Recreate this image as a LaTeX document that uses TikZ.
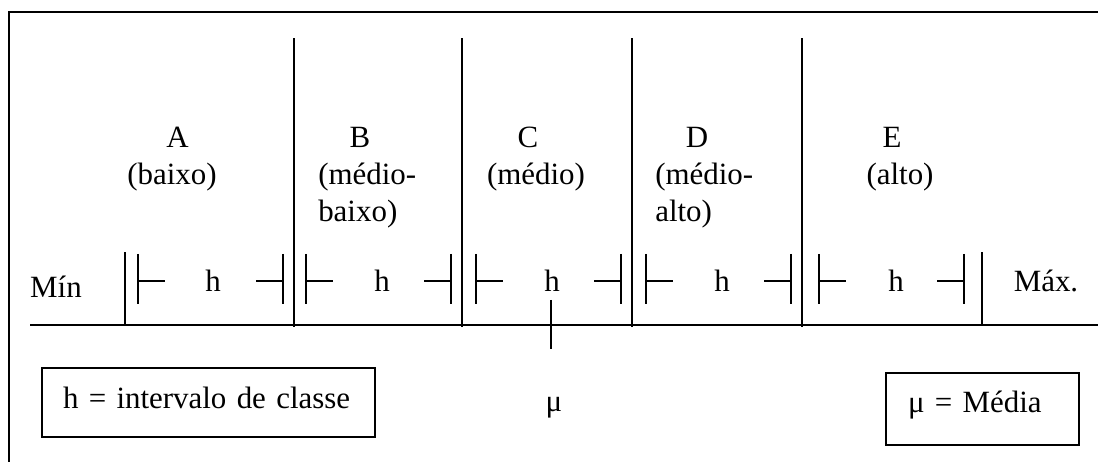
\documentclass[tikz,border=0pt]{standalone}
\usepackage{fontspec}
\setmainfont{Liberation Serif}
\usepackage{tikz}
\usetikzlibrary{positioning,calc}

\begin{document}
\begin{tikzpicture}[
    every node/.style={font=\fontsize{22}{26}\selectfont, inner sep=0pt},
    lbl/.style={anchor=base},
    lblw/.style={anchor=base west},
    legend/.style={draw, line width=1.3pt, align=left, inner ysep=0pt},
    ln/.style={line width=1.3pt}
]
\useasboundingbox (0,0) rectangle (27.45,11.55);

% ── Frame (cut off at right and bottom) ──────────────────────────────────
\draw[ln] (0.225,0) |- (27.45,11.25);

% ── Axis ──────────────────────────────────────────────────────────────────
\coordinate (axL) at (0.75,3.425);
\coordinate (axR) at (27.45,3.425);
\draw[ln] (axL) -- (axR);

% ── Class dividers ────────────────────────────────────────────────────────
\foreach \x in {7.35,11.55,15.8,20.05}
  \draw[ln] (\x,3.375) -- (\x,10.6);
\draw[ln] (3.125,3.425) -- (3.125,5.25);
\draw[ln] (24.55,3.425) -- (24.55,5.25);

% ── Class width h ─────────────────────────────────────────────────────────
\foreach \l/\m/\r [count=\i] in {3.45/5.325/7.075, 7.65/9.55/11.275,
    11.9/13.8/15.525, 16.15/18.05/19.775, 20.475/22.4/24.1}{
  \node[lbl] (h\i) at (\m,4.25) {h};
  \draw[ln] (\l,5.2) -- (\l,3.95) (\l,4.525) -- ++(0.675,0);
  \draw[ln] (\r,5.2) -- (\r,3.95) (\r,4.525) -- ++(-0.675,0);
}

% ── Class labels ──────────────────────────────────────────────────────────
\node[lbl] (A) at (4.44,7.85) {A};
\node[lbl] (Adesc) at (4.3,6.925) {(baixo)};
\node[lbl] (B) at (9.0,7.85) {B};
\node[lblw] (Bdesc) at (7.95,6.925) {(médio-};
\node[lblw] (Bdesc2) at (7.95,6.0) {baixo)};
\node[lbl] (C) at (13.2,7.85) {C};
\node[lbl] (Cdesc) at (13.4,6.925) {(médio)};
\node[lbl] (D) at (17.425,7.85) {D};
\node[lblw] (Ddesc) at (16.375,6.925) {(médio-};
\node[lblw] (Ddesc2) at (16.375,6.0) {alto)};
\node[lbl] (E) at (22.3,7.85) {E};
\node[lbl] (Edesc) at (22.5,6.925) {(alto)};

% ── Ends ──────────────────────────────────────────────────────────────────
\node[lbl] (min) at (1.4,4.1) {Mín};
\node[lbl] (max) at (26.15,4.25) {Máx.};

% ── Mean ──────────────────────────────────────────────────────────────────
\coordinate (muT) at (13.775,4.05);
\coordinate (muB) at (13.775,2.825);
\draw[ln] (muT) -- (muB);
\node[lbl] (mu) at (13.85,1.26) {μ};

% ── Legend ────────────────────────────────────────────────────────────────
\node[legend, inner xsep=0.525cm, text width=7.275cm, minimum height=1.725cm,
      text height=15.4pt, text depth=6.15pt] (hkey) at (5.2125,1.4875)
      {h = intervalo de classe};
\node[legend, inner xsep=0.55cm, text width=3.725cm, minimum height=1.8cm,
      text height=15.4pt, text depth=10.1pt] (mukey) at (24.5625,1.325)
      {μ = Média};

\end{tikzpicture}
\end{document}
